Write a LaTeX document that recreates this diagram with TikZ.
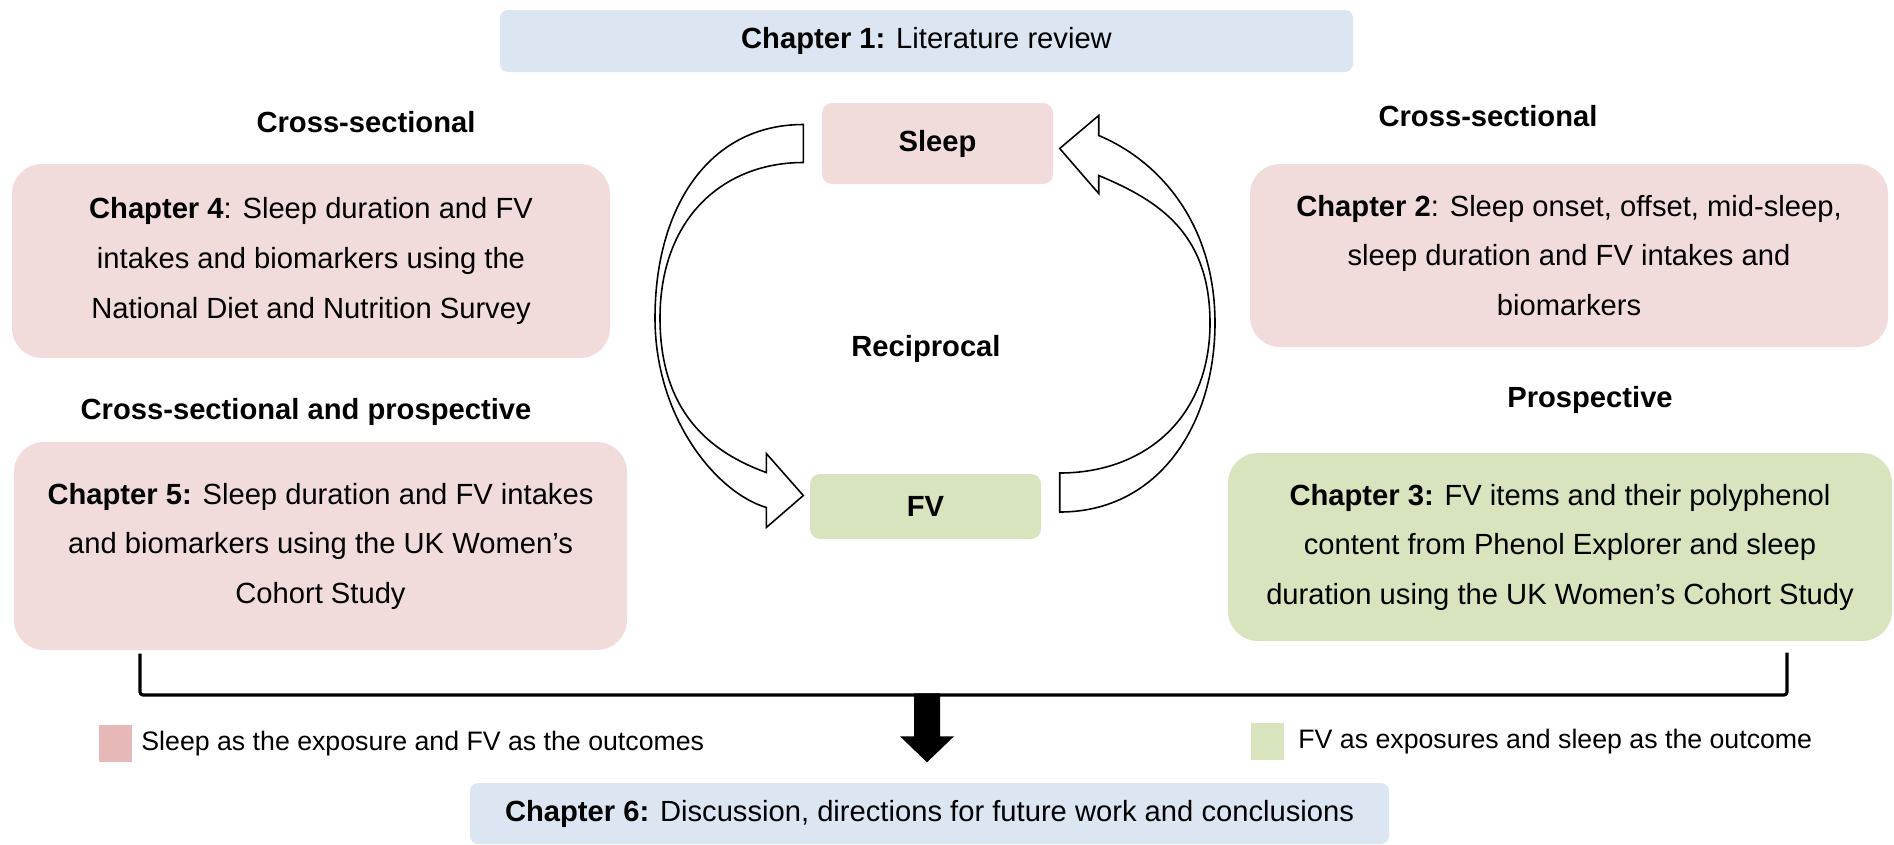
\documentclass[tikz,border=0pt]{standalone}
\usepackage{fontspec}
\setmainfont{Liberation Sans}
\usetikzlibrary{calc, positioning}
\definecolor{sleepfill}{HTML}{F2DCDB}
\definecolor{sleepkey}{HTML}{E6B9B8}
\definecolor{fvfill}{HTML}{D7E4BD}
\definecolor{chapfill}{HTML}{DCE6F2}
\newcommand{\boxfont}{\fontsize{8.3}{14.1}\selectfont}
\newcommand{\keyfont}{\fontsize{7.6}{9}\selectfont}

\begin{document}
\begin{tikzpicture}[x=0.1mm, y=-0.1mm,
    box/.style={rounded corners=3mm, align=center, inner sep=0pt, font=\boxfont},
    chap/.style={fill=chapfill, rounded corners=0.8mm, inner sep=0pt, font=\boxfont},
    var/.style={rounded corners=1mm, inner sep=0pt, font=\boxfont\bfseries},
    head/.style={font=\boxfont\bfseries},
    key/.style={minimum width=3.3mm, minimum height=3.7mm, inner sep=0pt},
    keytext/.style={font=\keyfont, anchor=west, inner sep=0pt},
    curv/.style={draw, fill=white, line width=0.45pt, line join=miter},
    brace/.style={line width=0.9pt, rounded corners=0.3mm}
  ]
  \useasboundingbox (0,0) rectangle (1894,844);

  % ── Chapter 1 ──
  \node[chap, minimum width=85.3mm, minimum height=6.2mm] (ch1) at (926.5,41)
    {\textbf{Chapter 1:} Literature review};

  % ── Sleep / FV ──
  \node[var, fill=sleepfill, minimum width=23.1mm, minimum height=8.1mm] (sleep) at (937.5,143.5) {Sleep};
  \node[var, fill=fvfill, minimum width=23.1mm, minimum height=6.5mm]    (fv)    at (925.5,506.5) {FV};
  \node[head] (recip) at (926,349) {Reciprocal};

  % ── left column ──
  \node[head] (hd4) at (366,122) {Cross-sectional};
  \node[box, fill=sleepfill, minimum width=59.8mm, minimum height=19.4mm] (ch4) at (311,261)
    {\textbf{Chapter 4}: Sleep duration and FV\\intakes and biomarkers using the\\National Diet and Nutrition Survey};
  \node[head] (hd5) at (306,412) {Cross-sectional and prospective};
  \node[box, fill=sleepfill, minimum width=61.3mm, minimum height=20.8mm] (ch5) at (320.5,546)
    {\textbf{Chapter 5:} Sleep duration and FV intakes\\and biomarkers using the UK Women’s\\Cohort Study};

  % ── right column ──
  \node[head] (hd2) at (1488,116) {Cross-sectional};
  \node[box, fill=sleepfill, minimum width=63.8mm, minimum height=18.3mm] (ch2) at (1569,255.5)
    {\textbf{Chapter 2}: Sleep onset, offset, mid-sleep,\\sleep duration and FV intakes and\\biomarkers};
  \node[head] (hd3) at (1590,400) {Prospective};
  \node[box, fill=fvfill, minimum width=66.4mm, minimum height=18.8mm] (ch3) at (1560,547)
    {\textbf{Chapter 3:} FV items and their polyphenol\\content from Phenol Explorer and sleep\\duration using the UK Women’s Cohort Study};

  % ── Chapter 6 ──
  \node[chap, minimum width=91.9mm, minimum height=6.1mm] (ch6) at (929.5,813.5)
    {\textbf{Chapter 6:} Discussion, directions for future work and conclusions};

  % ── legend ──
  \node[key, fill=sleepkey] (keys) at (115.5,743.5) {};
  \node[keytext, right=0.8mm of keys] (keystext) {Sleep as the exposure and FV as the outcomes};
  \node[key, fill=fvfill] (keyf) at (1267.5,741.5) {};
  \node[keytext, right=1.3mm of keyf] (keyftext) {FV as exposures and sleep as the outcome};

  % ── reciprocal arrows ──
  \coordinate (ltail) at ($(sleep.west)+(-18,0)$);
  \coordinate (ltip)  at ($(fv.west)+(-6,-11)$);
  \draw[curv] ($(ltail)+(0,-19)$) .. controls +(-95,0) and +(0,-110) .. (655,318)
    .. controls +(0,100) and +(-50,-15) .. ($(ltip)+(-37,12)$)
    -- ($(ltip)+(-37,32)$) -- (ltip) -- ($(ltip)+(-37,-42)$) -- ($(ltip)+(-37,-23)$)
    .. controls +(-55,-20) and +(0,95) .. (660,318)
    .. controls +(0,-100) and +(-80,0) .. ($(ltail)+(0,19)$) -- cycle;

  \coordinate (rtail) at ($(fv.east)+(18,-14)$);
  \coordinate (rtip)  at ($(sleep.east)+(6,5)$);
  \draw[curv] ($(rtail)+(0,19.5)$) .. controls +(100,0) and +(0,100) .. (1215,323)
    .. controls +(0,-100) and +(60,25) .. ($(rtip)+(39,-13)$)
    -- ($(rtip)+(39,-33)$) -- (rtip) -- ($(rtip)+(39,45)$) -- ($(rtip)+(39,27)$)
    .. controls +(60,25) and +(0,-90) .. (1210,323)
    .. controls +(0,95) and +(85,0) .. ($(rtail)+(0,-19.5)$) -- cycle;

  % ── bracket and arrow to Chapter 6 ──
  \coordinate (brl) at (ch5.south -| 140,0);
  \coordinate (brr) at (ch3.south -| 1787,0);
  \draw[brace] ($(brl)+(0,3)$) -- (140,695) -| ($(brr)+(0,11)$);

  \coordinate (tip) at ($(ch6.north)+(-2.5,-20)$);
  \fill ($(tip)+(-13,-69)$) -- ($(tip)+(13,-69)$) -- ($(tip)+(13,-26)$) -- ($(tip)+(27,-26)$)
    -- (tip) -- ($(tip)+(-27,-26)$) -- ($(tip)+(-13,-26)$) -- cycle;
\end{tikzpicture}
\end{document}
